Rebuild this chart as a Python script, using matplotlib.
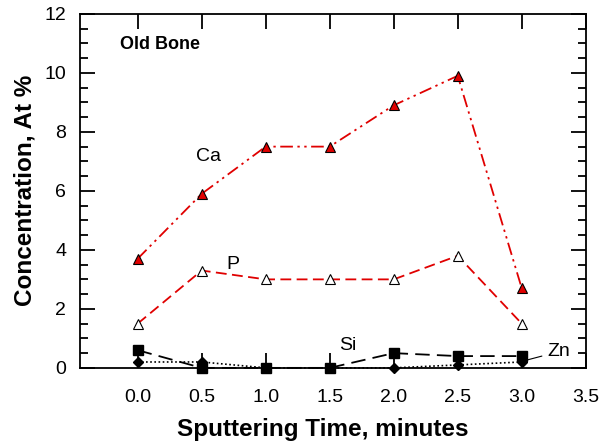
import matplotlib
matplotlib.use("Agg")
import matplotlib.pyplot as plt
from matplotlib.ticker import MultipleLocator

plt.rcParams['font.family'] = ['Liberation Sans', 'DejaVu Sans']

# data
time_min = [0.0, 0.5, 1.0, 1.5, 2.0, 2.5, 3.0]
ca = [3.7, 5.9, 7.5, 7.5, 8.9, 9.9, 2.7]
p = [1.5, 3.3, 3.0, 3.0, 3.0, 3.8, 1.5]
si = [0.6, 0.0, 0.0, 0.0, 0.5, 0.4, 0.4]
zn = [0.2, 0.2, 0.0, 0.0, 0.0, 0.1, 0.2]

fig = plt.figure(figsize=(6.02, 4.47), dpi=100)
ax = fig.add_axes([0.133, 0.177, 0.840, 0.792])

ax.plot(time_min, ca, color='#e00000', lw=1.3, dashes=[7, 2.5, 1.3, 2.5, 1.3, 2.5],
        marker='^', ms=7, mfc='#e00000', mec='black', mew=0.8, zorder=3, clip_on=False)
ax.plot(time_min, p, color='#e00000', lw=1.3, dashes=[6, 3],
        marker='^', ms=7, mfc='white', mec='black', mew=0.8, zorder=3, clip_on=False)
ax.plot(time_min, si, color='black', lw=1.3, dashes=[8, 4],
        marker='s', ms=6.5, mfc='black', mec='black', zorder=3, clip_on=False)
ax.plot(time_min, zn, color='black', lw=1.2, dashes=[1, 1.5],
        marker='D', ms=5.5, mfc='black', mec='black', zorder=3, clip_on=False)

ax.set_xlim(-0.45, 3.5)
ax.set_ylim(0, 12)
ax.yaxis.set_major_locator(MultipleLocator(2))
ax.yaxis.set_minor_locator(MultipleLocator(0.5))
ax.set_xticks([0.0, 0.5, 1.0, 1.5, 2.0, 2.5, 3.0, 3.5])
ax.set_xticklabels(['0.0', '0.5', '1.0', '1.5', '2.0', '2.5', '3.0', '3.5'])
ax.tick_params(which='both', direction='in', top=True, right=True, width=1.3,
               labelsize=14, colors='black')
ax.tick_params(which='major', length=11)
ax.tick_params(which='minor', length=6)
ax.tick_params(axis='y', pad=10)
ax.tick_params(axis='x', pad=15)
for s in ax.spines.values():
    s.set_linewidth(1.3)

ax.set_xlabel('Sputtering Time, minutes', fontsize=17.5, fontweight='bold')
ax.xaxis.set_label_coords(0.48, -0.142)
ax.set_ylabel('Concentration, At %', fontsize=17.5, fontweight='bold', labelpad=6)

ax.text(-0.14, 10.95, 'Old Bone', fontsize=13, fontweight='bold', va='center')
ax.text(0.55, 7.15, 'Ca', fontsize=14, va='center', ha='center')
ax.text(0.74, 3.5, 'P', fontsize=14, va='center', ha='center')
ax.text(1.64, 0.75, 'Si', fontsize=14, va='center', ha='center')
ax.annotate('Zn', xy=(3.0, 0.22), xytext=(3.2, 0.55), fontsize=14, va='center',
            arrowprops=dict(arrowstyle='-', color='black', lw=0.8))

fig.savefig('out.png', dpi=100)
